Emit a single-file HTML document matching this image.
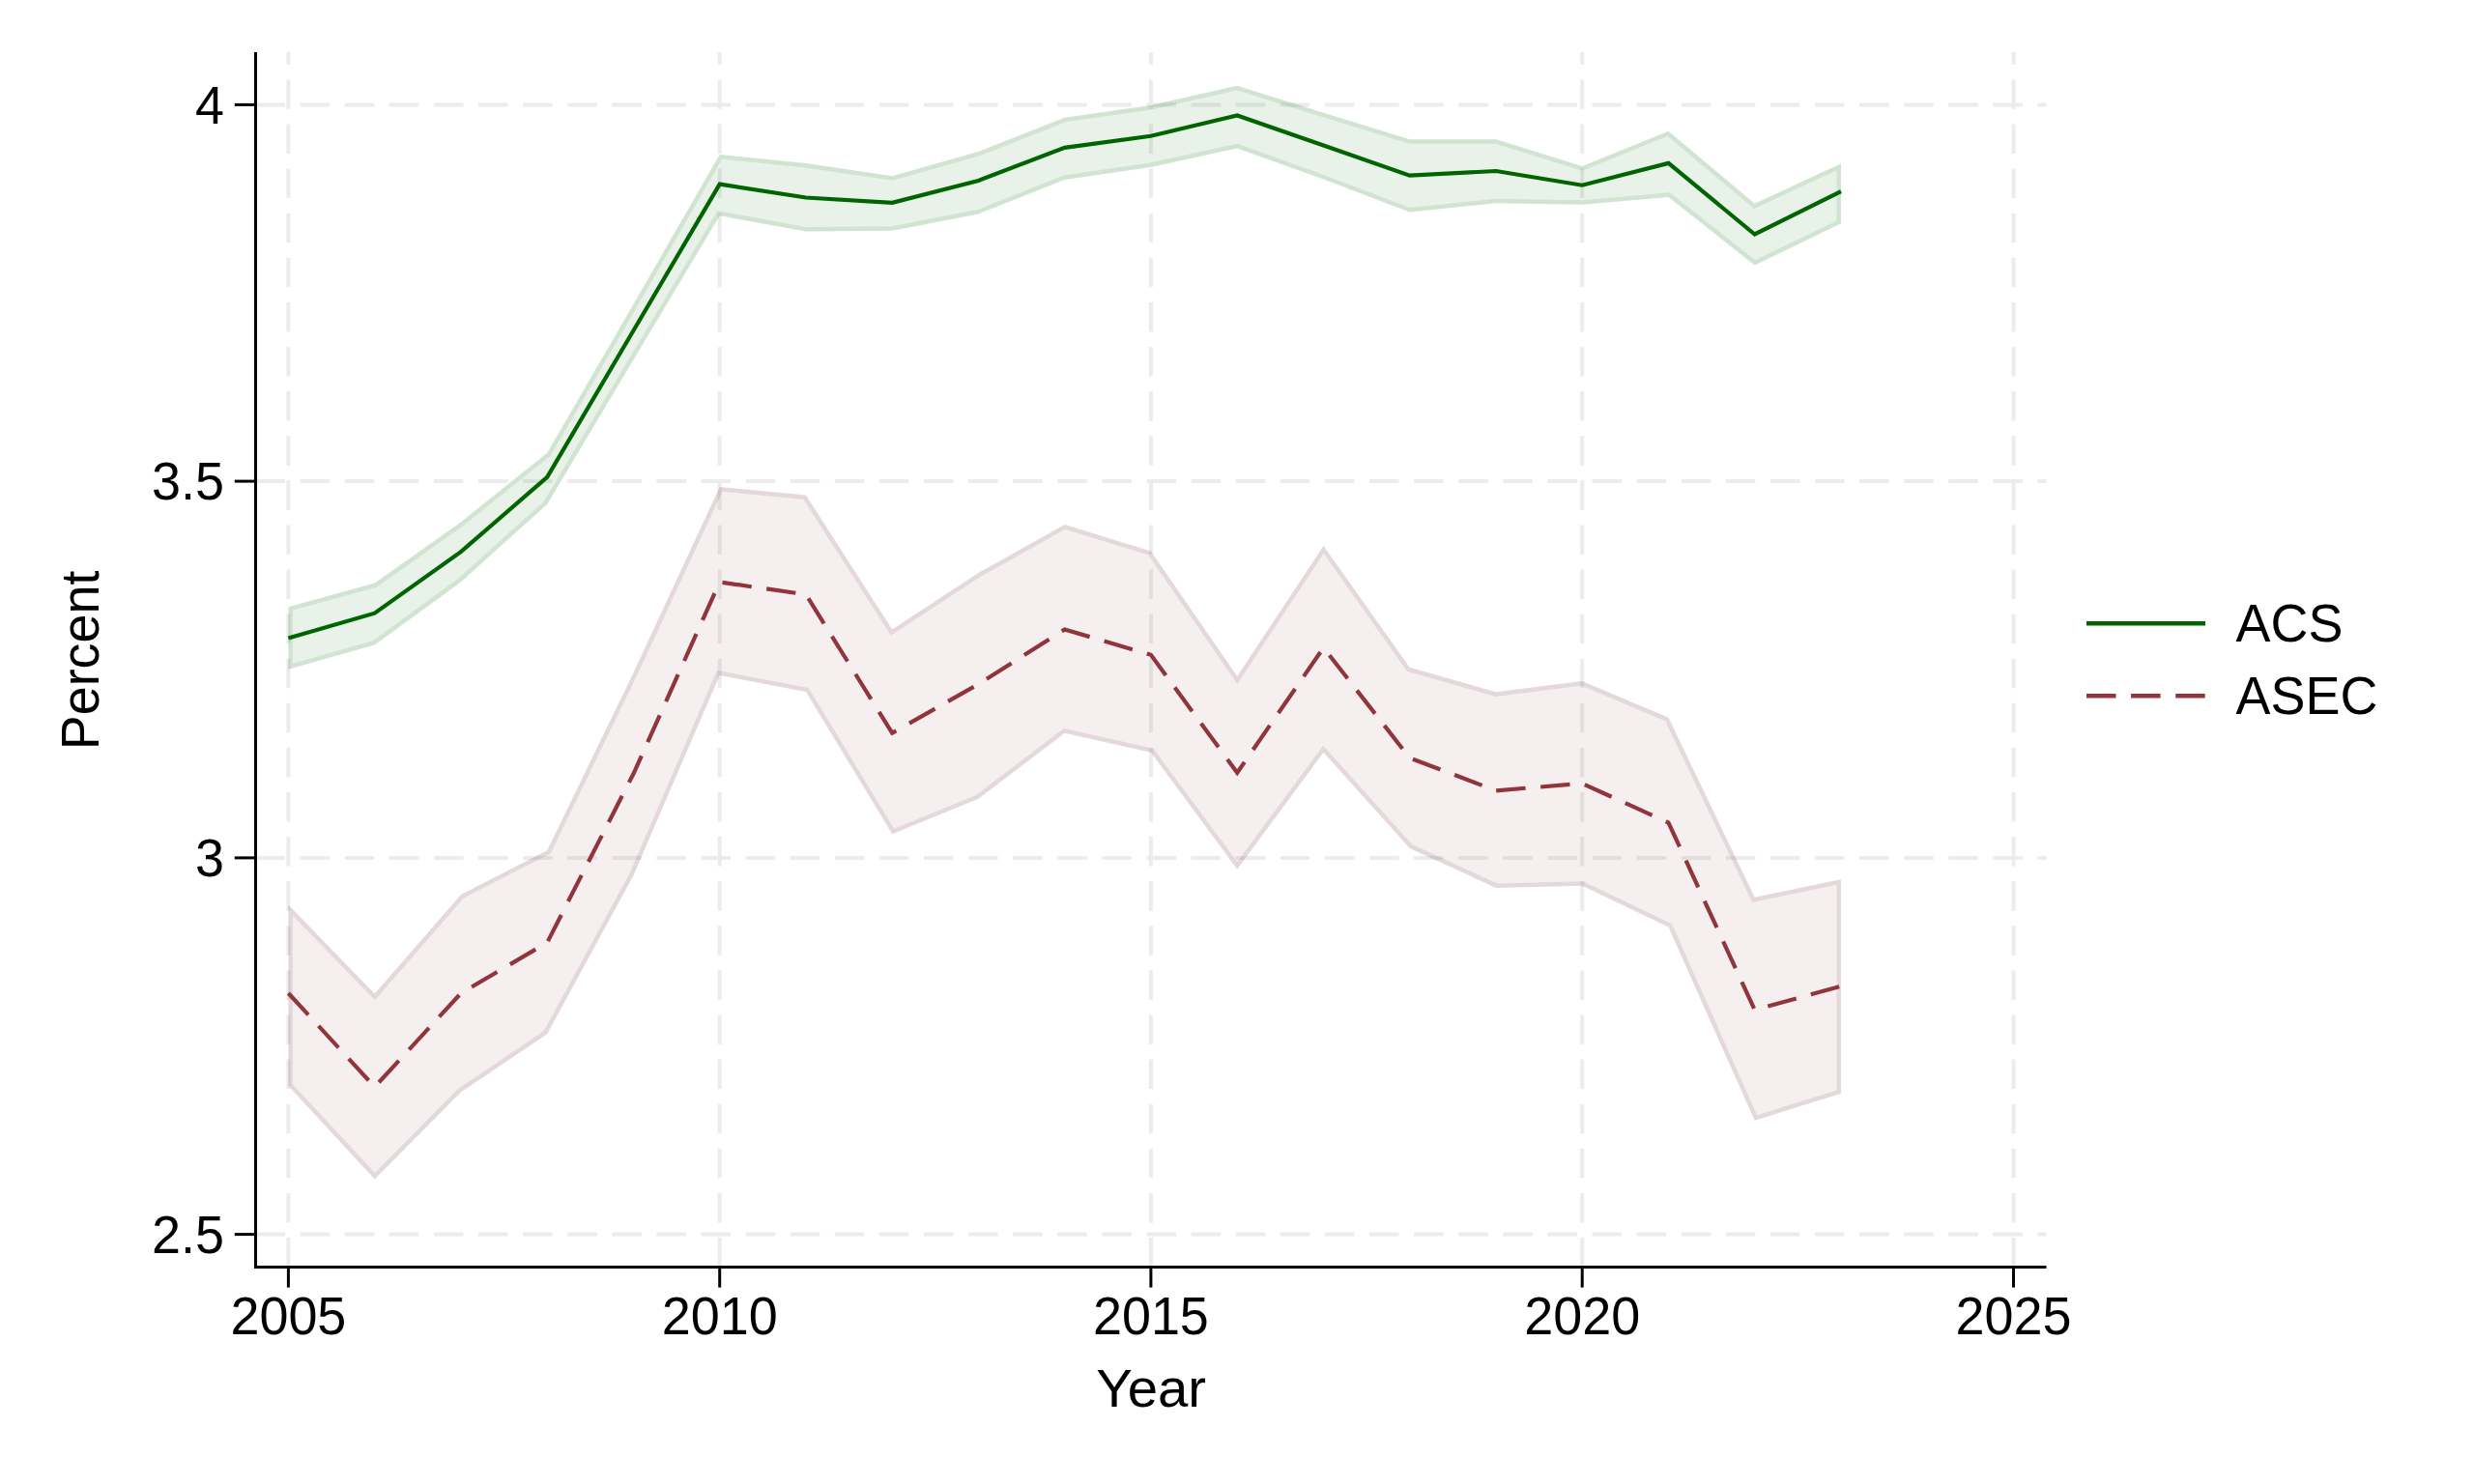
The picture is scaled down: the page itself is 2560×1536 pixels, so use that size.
<!DOCTYPE html>
<html><head><meta charset="utf-8"><title>chart</title>
<style>
html,body{margin:0;padding:0;background:#fff;}
svg{display:block;}
text{font-family:"Liberation Sans",sans-serif;fill:#000;}
</style></head><body>
<svg width="2560" height="1536" viewBox="0 0 2560 1536">
<rect x="0" y="0" width="2560" height="1536" fill="#ffffff"/>
<g stroke="#ececec" stroke-width="4" stroke-dasharray="30.5 15.6" fill="none">
<line x1="264.5" y1="108.4" x2="2117.5" y2="108.4"/>
<line x1="264.5" y1="498.1" x2="2117.5" y2="498.1"/>
<line x1="264.5" y1="887.9" x2="2117.5" y2="887.9"/>
<line x1="264.5" y1="1277.6" x2="2117.5" y2="1277.6"/>
<line x1="298.4" y1="1311.5" x2="298.4" y2="54.0"/>
<line x1="744.7" y1="1311.5" x2="744.7" y2="54.0"/>
<line x1="1190.9" y1="1311.5" x2="1190.9" y2="54.0"/>
<line x1="1637.2" y1="1311.5" x2="1637.2" y2="54.0"/>
<line x1="2083.5" y1="1311.5" x2="2083.5" y2="54.0"/>
</g>
<defs></defs>
<clipPath id="cacs"><polygon points="298.4,628.2 387.7,603.6 476.9,540.4 566.2,468.7 655.4,314.9 744.7,160.0 833.9,169.1 923.2,182.2 1012.4,157.0 1101.7,121.7 1190.9,109.1 1280.2,88.7 1369.5,116.8 1458.7,144.3 1548.0,144.3 1637.2,171.9 1726.5,135.7 1815.7,210.8 1905.0,169.3 1905.0,231.3 1815.7,274.6 1726.5,204.0 1637.2,211.7 1548.0,210.2 1458.7,219.6 1369.5,185.6 1280.2,153.4 1190.9,173.0 1101.7,186.0 1012.4,221.5 923.2,238.7 833.9,239.6 744.7,223.2 655.4,372.6 566.2,521.9 476.9,602.4 387.7,667.4 298.4,692.7"/></clipPath>
<polygon points="298.4,628.2 387.7,603.6 476.9,540.4 566.2,468.7 655.4,314.9 744.7,160.0 833.9,169.1 923.2,182.2 1012.4,157.0 1101.7,121.7 1190.9,109.1 1280.2,88.7 1369.5,116.8 1458.7,144.3 1548.0,144.3 1637.2,171.9 1726.5,135.7 1815.7,210.8 1905.0,169.3 1905.0,231.3 1815.7,274.6 1726.5,204.0 1637.2,211.7 1548.0,210.2 1458.7,219.6 1369.5,185.6 1280.2,153.4 1190.9,173.0 1101.7,186.0 1012.4,221.5 923.2,238.7 833.9,239.6 744.7,223.2 655.4,372.6 566.2,521.9 476.9,602.4 387.7,667.4 298.4,692.7" fill="rgb(0,100,0)" fill-opacity="0.085" stroke="none"/>
<polygon points="298.4,628.2 387.7,603.6 476.9,540.4 566.2,468.7 655.4,314.9 744.7,160.0 833.9,169.1 923.2,182.2 1012.4,157.0 1101.7,121.7 1190.9,109.1 1280.2,88.7 1369.5,116.8 1458.7,144.3 1548.0,144.3 1637.2,171.9 1726.5,135.7 1815.7,210.8 1905.0,169.3 1905.0,231.3 1815.7,274.6 1726.5,204.0 1637.2,211.7 1548.0,210.2 1458.7,219.6 1369.5,185.6 1280.2,153.4 1190.9,173.0 1101.7,186.0 1012.4,221.5 923.2,238.7 833.9,239.6 744.7,223.2 655.4,372.6 566.2,521.9 476.9,602.4 387.7,667.4 298.4,692.7" fill="none" stroke="rgb(0,100,0)" stroke-opacity="0.1" stroke-width="9" stroke-linejoin="miter" clip-path="url(#cacs)"/>
<clipPath id="casec"><polygon points="298.4,936.4 387.7,1028.6 476.9,926.0 566.2,880.2 655.4,696.5 744.7,504.0 833.9,512.5 923.2,651.5 1012.4,593.0 1101.7,542.9 1190.9,570.4 1280.2,699.9 1369.5,564.9 1458.7,690.8 1548.0,716.3 1637.2,705.0 1726.5,742.8 1815.7,928.8 1905.0,910.2 1905.0,1131.7 1815.7,1159.8 1726.5,959.6 1637.2,916.8 1548.0,918.9 1458.7,877.9 1369.5,778.8 1280.2,899.7 1190.9,778.7 1101.7,758.8 1012.4,826.8 923.2,863.3 833.9,716.0 744.7,698.9 655.4,906.2 566.2,1070.2 476.9,1130.5 387.7,1220.4 298.4,1124.0"/></clipPath>
<polygon points="298.4,936.4 387.7,1028.6 476.9,926.0 566.2,880.2 655.4,696.5 744.7,504.0 833.9,512.5 923.2,651.5 1012.4,593.0 1101.7,542.9 1190.9,570.4 1280.2,699.9 1369.5,564.9 1458.7,690.8 1548.0,716.3 1637.2,705.0 1726.5,742.8 1815.7,928.8 1905.0,910.2 1905.0,1131.7 1815.7,1159.8 1726.5,959.6 1637.2,916.8 1548.0,918.9 1458.7,877.9 1369.5,778.8 1280.2,899.7 1190.9,778.7 1101.7,758.8 1012.4,826.8 923.2,863.3 833.9,716.0 744.7,698.9 655.4,906.2 566.2,1070.2 476.9,1130.5 387.7,1220.4 298.4,1124.0" fill="rgb(144,53,59)" fill-opacity="0.078" stroke="none"/>
<polygon points="298.4,936.4 387.7,1028.6 476.9,926.0 566.2,880.2 655.4,696.5 744.7,504.0 833.9,512.5 923.2,651.5 1012.4,593.0 1101.7,542.9 1190.9,570.4 1280.2,699.9 1369.5,564.9 1458.7,690.8 1548.0,716.3 1637.2,705.0 1726.5,742.8 1815.7,928.8 1905.0,910.2 1905.0,1131.7 1815.7,1159.8 1726.5,959.6 1637.2,916.8 1548.0,918.9 1458.7,877.9 1369.5,778.8 1280.2,899.7 1190.9,778.7 1101.7,758.8 1012.4,826.8 923.2,863.3 833.9,716.0 744.7,698.9 655.4,906.2 566.2,1070.2 476.9,1130.5 387.7,1220.4 298.4,1124.0" fill="none" stroke="rgb(110,50,70)" stroke-opacity="0.12" stroke-width="9" stroke-linejoin="miter" clip-path="url(#casec)"/>
<polyline points="298.4,660.4 387.7,634.7 476.9,571.1 566.2,493.8 655.4,342.3 744.7,190.6 833.9,204.5 923.2,209.8 1012.4,187.0 1101.7,152.8 1190.9,140.8 1280.2,119.4 1369.5,150.6 1458.7,181.7 1548.0,177.0 1637.2,191.7 1726.5,168.9 1815.7,242.5 1905.0,198.1" fill="none" stroke="rgb(0,100,0)" stroke-width="4.2" stroke-linejoin="miter" stroke-linecap="butt"/>
<polyline points="298.4,1028.0 387.7,1125.0 476.9,1028.1 566.2,975.6 655.4,801.0 744.7,602.5 833.9,615.3 923.2,758.7 1012.4,708.2 1101.7,651.5 1190.9,677.8 1280.2,799.8 1369.5,670.4 1458.7,784.5 1548.0,818.3 1637.2,810.9 1726.5,851.5 1815.7,1045.3 1905.0,1020.7" fill="none" stroke="rgb(144,53,59)" stroke-width="4.2" stroke-linejoin="miter" stroke-linecap="butt" stroke-dasharray="30.5 15.6"/>
<g stroke="#000" stroke-width="3" fill="none">
<line x1="264.5" y1="54.0" x2="264.5" y2="1313.0"/>
<line x1="263.0" y1="1311.5" x2="2117.5" y2="1311.5"/>
<line x1="242.8" y1="108.4" x2="264.5" y2="108.4"/>
<line x1="242.8" y1="498.1" x2="264.5" y2="498.1"/>
<line x1="242.8" y1="887.9" x2="264.5" y2="887.9"/>
<line x1="242.8" y1="1277.6" x2="264.5" y2="1277.6"/>
<line x1="298.4" y1="1311.5" x2="298.4" y2="1332.6"/>
<line x1="744.7" y1="1311.5" x2="744.7" y2="1332.6"/>
<line x1="1190.9" y1="1311.5" x2="1190.9" y2="1332.6"/>
<line x1="1637.2" y1="1311.5" x2="1637.2" y2="1332.6"/>
<line x1="2083.5" y1="1311.5" x2="2083.5" y2="1332.6"/>
</g>
<g font-size="53.9">
<text transform="translate(232.0,127.5) scale(1.0,1.03)" text-anchor="end">4</text>
<text transform="translate(232.0,517.2) scale(1.0,1.03)" text-anchor="end">3.5</text>
<text transform="translate(232.0,907.0) scale(1.0,1.03)" text-anchor="end">3</text>
<text transform="translate(232.0,1296.7) scale(1.0,1.03)" text-anchor="end">2.5</text>
<text transform="translate(298.4,1380.8) scale(1.0,1.03)" text-anchor="middle">2005</text>
<text transform="translate(744.7,1380.8) scale(1.0,1.03)" text-anchor="middle">2010</text>
<text transform="translate(1190.9,1380.8) scale(1.0,1.03)" text-anchor="middle">2015</text>
<text transform="translate(1637.2,1380.8) scale(1.0,1.03)" text-anchor="middle">2020</text>
<text transform="translate(2083.5,1380.8) scale(1.0,1.03)" text-anchor="middle">2025</text>
<text transform="translate(1191.2,1455.6) scale(1.045,1.03)" text-anchor="middle">Year</text>
<text transform="translate(101.5,683.4) rotate(-90) scale(1.0,1.03)" text-anchor="middle">Percent</text>
<text transform="translate(2313.6,664.0) scale(1.0,1.03)">ACS</text>
<text transform="translate(2313.6,738.8) scale(1.0,1.03)">ASEC</text>
</g>
<line x1="2159" y1="645.3" x2="2282" y2="645.3" stroke="rgb(0,100,0)" stroke-width="4.6"/>
<line x1="2159" y1="720.2" x2="2282" y2="720.2" stroke="rgb(144,53,59)" stroke-width="4.4" stroke-dasharray="30.5 15.6"/>
</svg>
</body></html>
